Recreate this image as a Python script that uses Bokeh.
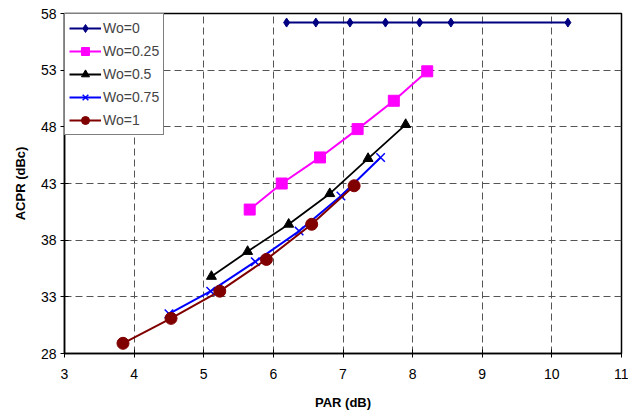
from bokeh.plotting import figure
from bokeh.models import Legend, LegendItem, FixedTicker
from bokeh.embed import file_html
from bokeh.resources import INLINE

# PAR (dB) vs ACPR (dBc) for each Wo weighting
wo0_par = [6.19, 6.61, 7.10, 7.61, 8.10, 8.55, 10.23]
wo0_acpr = [57.2, 57.2, 57.2, 57.2, 57.2, 57.2, 57.2]

wo025_par = [5.66, 6.12, 6.67, 7.21, 7.73, 8.21]
wo025_acpr = [40.7, 43.0, 45.3, 47.8, 50.3, 52.9]

wo05_par = [5.11, 5.63, 6.22, 6.81, 7.36, 7.90]
wo05_acpr = [34.8, 37.0, 39.4, 42.1, 45.2, 48.2]

wo075_par = [4.50, 5.10, 5.74, 6.37, 6.97, 7.54]
wo075_acpr = [31.5, 33.5, 36.1, 38.8, 41.9, 45.3]

wo1_par = [3.84, 4.53, 5.23, 5.90, 6.55, 7.16]
wo1_acpr = [28.9, 31.1, 33.5, 36.3, 39.4, 42.8]

x_ticks = [3, 4, 5, 6, 7, 8, 9, 10, 11]
y_ticks = [28, 33, 38, 43, 48, 53, 58]

FONT = "Liberation Sans"

p = figure(width=628, height=414, output_backend="svg", toolbar_location=None,
           x_range=(3, 11), y_range=(28, 58),
           min_border_left=64, min_border_right=7, min_border_top=13, min_border_bottom=61)
p.background_fill_color = "white"
p.border_fill_color = "white"
p.outline_line_color = "black"
p.outline_line_width = 1.5

for ax in (p.xaxis[0], p.yaxis[0]):
    ax.axis_line_color = "black"
    ax.axis_line_width = 1.5
    ax.major_tick_in = 4
    ax.major_tick_out = 4
    ax.major_tick_line_color = "black"
    ax.minor_tick_line_color = None
    ax.major_label_text_font = FONT
    ax.major_label_text_font_size = "14px"
    ax.major_label_text_color = "black"
    ax.axis_label_text_font = FONT
    ax.axis_label_text_font_size = "13px"
    ax.axis_label_text_font_style = "bold"
    ax.axis_label_text_color = "black"

p.xaxis.ticker = FixedTicker(ticks=x_ticks)
p.yaxis.ticker = FixedTicker(ticks=y_ticks)
p.xaxis.axis_label = "PAR (dB)"
p.yaxis.axis_label = "ACPR (dBc)"
p.xaxis.major_label_standoff = 11
p.xaxis.axis_label_standoff = 13
p.yaxis.major_label_standoff = 4
p.yaxis.axis_label_standoff = 10

p.grid.grid_line_color = "#555555"
p.grid.grid_line_dash = "7 4"
p.grid.grid_line_width = 1

items = []

l0 = p.line(wo0_par, wo0_acpr, line_color="#000080", line_width=2)
m0 = p.scatter(wo0_par, wo0_acpr, marker="diamond", size=9, fill_color="#000080", line_color="#000080")
items.append(LegendItem(label="Wo=0", renderers=[l0, m0]))

l1 = p.line(wo025_par, wo025_acpr, line_color="#FF00FF", line_width=2)
m1 = p.scatter(wo025_par, wo025_acpr, marker="square", size=11, fill_color="#FF00FF", line_color="#FF00FF")
items.append(LegendItem(label="Wo=0.25", renderers=[l1, m1]))

l2 = p.line(wo05_par, wo05_acpr, line_color="black", line_width=1.8)
m2 = p.scatter(wo05_par, wo05_acpr, marker="triangle", size=10, fill_color="black", line_color="black")
items.append(LegendItem(label="Wo=0.5", renderers=[l2, m2]))

l3 = p.line(wo075_par, wo075_acpr, line_color="#0000FF", line_width=2)
m3 = p.scatter(wo075_par, wo075_acpr, marker="x", size=12, line_color="#0000FF", line_width=1.5)
items.append(LegendItem(label="Wo=0.75", renderers=[l3, m3]))

l4 = p.line(wo1_par, wo1_acpr, line_color="#800000", line_width=2)
m4 = p.scatter(wo1_par, wo1_acpr, marker="circle", size=12, fill_color="#800000", line_color="#800000")
items.append(LegendItem(label="Wo=1", renderers=[l4, m4]))

legend = Legend(items=items, location="top_left", margin=0, padding=4, spacing=3,
                label_text_font=FONT, label_text_font_size="14px", label_standoff=2,
                glyph_width=32, glyph_height=20, label_height=20,
                border_line_color="black", border_line_width=1,
                background_fill_color="white", background_fill_alpha=1.0)
p.add_layout(legend)

open("out.html", "w").write(file_html(p, INLINE))
